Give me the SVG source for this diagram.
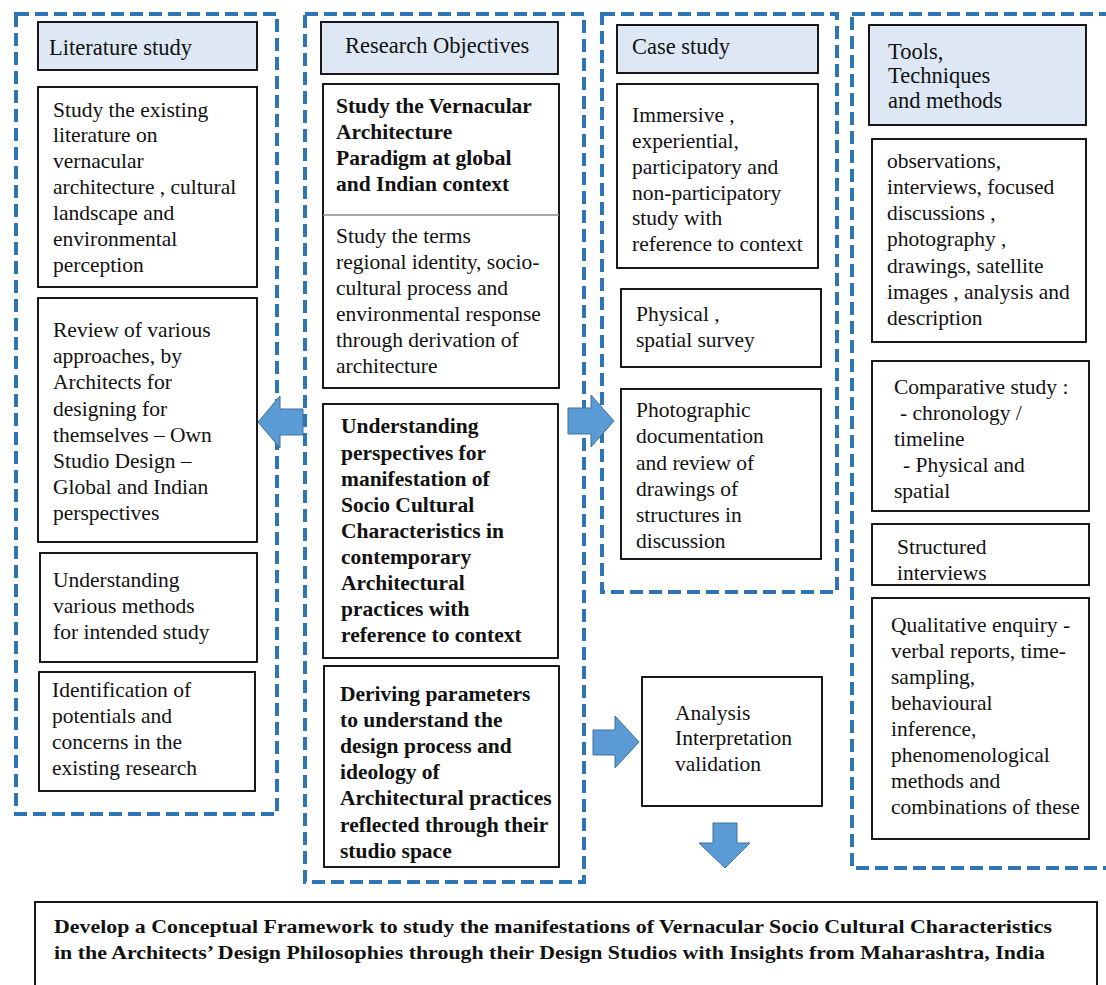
<svg xmlns="http://www.w3.org/2000/svg" width="1106" height="985" viewBox="0 0 1106 985">
<style>
.cont{fill:none;stroke:#2E75B6;stroke-width:4;stroke-dasharray:13 6}
.hdr{fill:#DDE8F4;stroke:#000;stroke-width:1.8}
.box{fill:#fff;stroke:#000;stroke-width:1.8}
.t{font-family:"Liberation Serif","Times New Roman",serif;font-size:21.5px;fill:#111}
.h{font-family:"Liberation Serif","Times New Roman",serif;font-size:22.5px;fill:#111}
.b{font-family:"Liberation Serif","Times New Roman",serif;font-size:21.5px;font-weight:bold;fill:#111}
.fb{font-family:"Liberation Serif","Times New Roman",serif;font-size:18px;font-weight:bold;fill:#111}
.arr{fill:#5B9BD5;stroke:#41719C;stroke-width:1}
</style>
<rect width="1106" height="985" fill="#fff"/>

<g id="containers">
<rect class="cont" x="16" y="14" width="261" height="800"/>
<rect class="cont" x="305" y="14" width="279" height="868"/>
<rect class="cont" x="602" y="14" width="235" height="578"/>
<rect class="cont" x="852" y="14" width="275" height="854"/>
</g>

<g id="lit-header"><rect class="hdr" x="38" y="22" width="219" height="48"/><text class="h" x="49" y="55">Literature study</text></g>
<g id="lit-1"><rect class="box" x="38" y="87" width="219" height="200"/>
<text class="t" x="53" y="117">Study the existing</text>
<text class="t" x="53" y="142">literature on</text>
<text class="t" x="53" y="168">vernacular</text>
<text class="t" x="53" y="194">architecture , cultural</text>
<text class="t" x="53" y="220">landscape and</text>
<text class="t" x="53" y="246">environmental</text>
<text class="t" x="53" y="272">perception</text></g>
<g id="lit-2"><rect class="box" x="38" y="298" width="219" height="244"/>
<text class="t" x="53" y="337">Review of various</text>
<text class="t" x="53" y="363">approaches, by</text>
<text class="t" x="53" y="389">Architects for</text>
<text class="t" x="53" y="416">designing for</text>
<text class="t" x="53" y="442">themselves – Own</text>
<text class="t" x="53" y="468">Studio Design –</text>
<text class="t" x="53" y="494">Global and Indian</text>
<text class="t" x="53" y="520">perspectives</text></g>
<g id="lit-3"><rect class="box" x="40" y="553" width="217" height="109"/>
<text class="t" x="53" y="587">Understanding</text>
<text class="t" x="53" y="613">various methods</text>
<text class="t" x="53" y="639">for intended study</text></g>
<g id="lit-4"><rect class="box" x="39" y="672" width="216" height="119"/>
<text class="t" x="52" y="697">Identification of</text>
<text class="t" x="52" y="723">potentials and</text>
<text class="t" x="52" y="749">concerns in the</text>
<text class="t" x="52" y="775">existing research</text></g>

<g id="ro-header"><rect class="hdr" x="321" y="22" width="237" height="52"/><text class="h" x="345" y="53">Research Objectives</text></g>
<g id="ro-1"><rect class="box" x="323" y="84" width="236" height="304"/>
<line x1="323" y1="215" x2="559" y2="215" stroke="#888" stroke-width="1.5"/>
<text class="b" x="336" y="113">Study the Vernacular</text>
<text class="b" x="336" y="139">Architecture</text>
<text class="b" x="336" y="165">Paradigm at global</text>
<text class="b" x="336" y="191">and Indian context</text>
<text class="t" x="336" y="243">Study the terms</text>
<text class="t" x="336" y="269">regional identity, socio-</text>
<text class="t" x="336" y="295">cultural process and</text>
<text class="t" x="336" y="321">environmental response</text>
<text class="t" x="336" y="347">through derivation of</text>
<text class="t" x="336" y="373">architecture</text></g>
<g id="ro-2"><rect class="box" x="323" y="404" width="235" height="254"/>
<text class="b" x="341" y="433">Understanding</text>
<text class="b" x="341" y="460">perspectives for</text>
<text class="b" x="341" y="486">manifestation of</text>
<text class="b" x="341" y="512">Socio Cultural</text>
<text class="b" x="341" y="538">Characteristics in</text>
<text class="b" x="341" y="564">contemporary</text>
<text class="b" x="341" y="590">Architectural</text>
<text class="b" x="341" y="616">practices with</text>
<text class="b" x="341" y="642">reference to context</text></g>
<g id="ro-3"><rect class="box" x="324" y="666" width="235" height="201"/>
<text class="b" x="340" y="701">Deriving parameters</text>
<text class="b" x="340" y="727">to understand the</text>
<text class="b" x="340" y="753">design process and</text>
<text class="b" x="340" y="779">ideology of</text>
<text class="b" x="340" y="805">Architectural practices</text>
<text class="b" x="340" y="832">reflected through their</text>
<text class="b" x="340" y="858">studio space</text></g>

<g id="cs-header"><rect class="hdr" x="617" y="25" width="201" height="48"/><text class="h" x="632" y="54">Case study</text></g>
<g id="cs-1"><rect class="box" x="617" y="84" width="201" height="184"/>
<text class="t" x="632" y="122">Immersive ,</text>
<text class="t" x="632" y="148">experiential,</text>
<text class="t" x="632" y="174">participatory and</text>
<text class="t" x="632" y="200">non-participatory</text>
<text class="t" x="632" y="225">study with</text>
<text class="t" x="632" y="251">reference to context</text></g>
<g id="cs-2"><rect class="box" x="621" y="289" width="200" height="78"/>
<text class="t" x="636" y="321">Physical ,</text>
<text class="t" x="636" y="347">spatial survey</text></g>
<g id="cs-3"><rect class="box" x="621" y="389" width="200" height="170"/>
<text class="t" x="636" y="417">Photographic</text>
<text class="t" x="636" y="443">documentation</text>
<text class="t" x="636" y="470">and review of</text>
<text class="t" x="636" y="496">drawings of</text>
<text class="t" x="636" y="522">structures in</text>
<text class="t" x="636" y="548">discussion</text></g>
<g id="analysis"><rect class="box" x="642" y="677" width="180" height="129"/>
<text class="t" x="675" y="720">Analysis</text>
<text class="t" x="675" y="745">Interpretation</text>
<text class="t" x="675" y="771">validation</text></g>

<g id="tt-header"><rect class="hdr" x="869" y="25" width="217" height="100"/>
<text class="h" x="888" y="59">Tools,</text>
<text class="h" x="888" y="83">Techniques</text>
<text class="h" x="888" y="108">and methods</text></g>
<g id="tt-1"><rect class="box" x="872" y="139" width="214" height="203"/>
<text class="t" x="887" y="168">observations,</text>
<text class="t" x="887" y="194">interviews, focused</text>
<text class="t" x="887" y="220">discussions ,</text>
<text class="t" x="887" y="246">photography ,</text>
<text class="t" x="887" y="273">drawings, satellite</text>
<text class="t" x="887" y="299">images , analysis and</text>
<text class="t" x="887" y="325">description</text></g>
<g id="tt-2"><rect class="box" x="872" y="361" width="217" height="150"/>
<text class="t" x="894" y="394">Comparative study :</text>
<text class="t" x="900" y="420">- chronology /</text>
<text class="t" x="894" y="446">timeline</text>
<text class="t" x="903" y="472">-  Physical and</text>
<text class="t" x="894" y="498">spatial</text></g>
<g id="tt-3"><rect class="box" x="872" y="524" width="217" height="61"/>
<text class="t" x="897" y="554">Structured</text>
<text class="t" x="897" y="580">interviews</text></g>
<g id="tt-4"><rect class="box" x="872" y="598" width="217" height="241"/>
<text class="t" x="891" y="632">Qualitative enquiry -</text>
<text class="t" x="891" y="658">verbal reports, time-</text>
<text class="t" x="891" y="684">sampling,</text>
<text class="t" x="891" y="710">behavioural</text>
<text class="t" x="891" y="736">inference,</text>
<text class="t" x="891" y="762">phenomenological</text>
<text class="t" x="891" y="788">methods and</text>
<text class="t" x="891" y="814">combinations of these</text></g>

<g id="goal"><rect class="box" x="35" y="902" width="1062" height="110"/>
<text class="fb" x="54" y="933" textLength="998" lengthAdjust="spacingAndGlyphs">Develop a Conceptual Framework to study the manifestations of Vernacular Socio Cultural Characteristics</text>
<text class="fb" x="54" y="959" textLength="991" lengthAdjust="spacingAndGlyphs">in the Architects’ Design Philosophies through their Design Studios with Insights from Maharashtra, India</text></g>

<g id="connectors">
<path class="arr" d="M258,422 L280,396 L280,409 L303,409 L303,435 L280,435 L280,448 Z"/>
<path class="arr" d="M614,421 L591,395 L591,408 L568,408 L568,434 L591,434 L591,447 Z"/>
<path class="arr" d="M639,742 L615,716 L615,730 L593,730 L593,755 L615,755 L615,768 Z"/>
<path class="arr" d="M725,868 L699,843 L713,843 L713,823 L737,823 L737,843 L750,843 Z"/>
</g>
</svg>
